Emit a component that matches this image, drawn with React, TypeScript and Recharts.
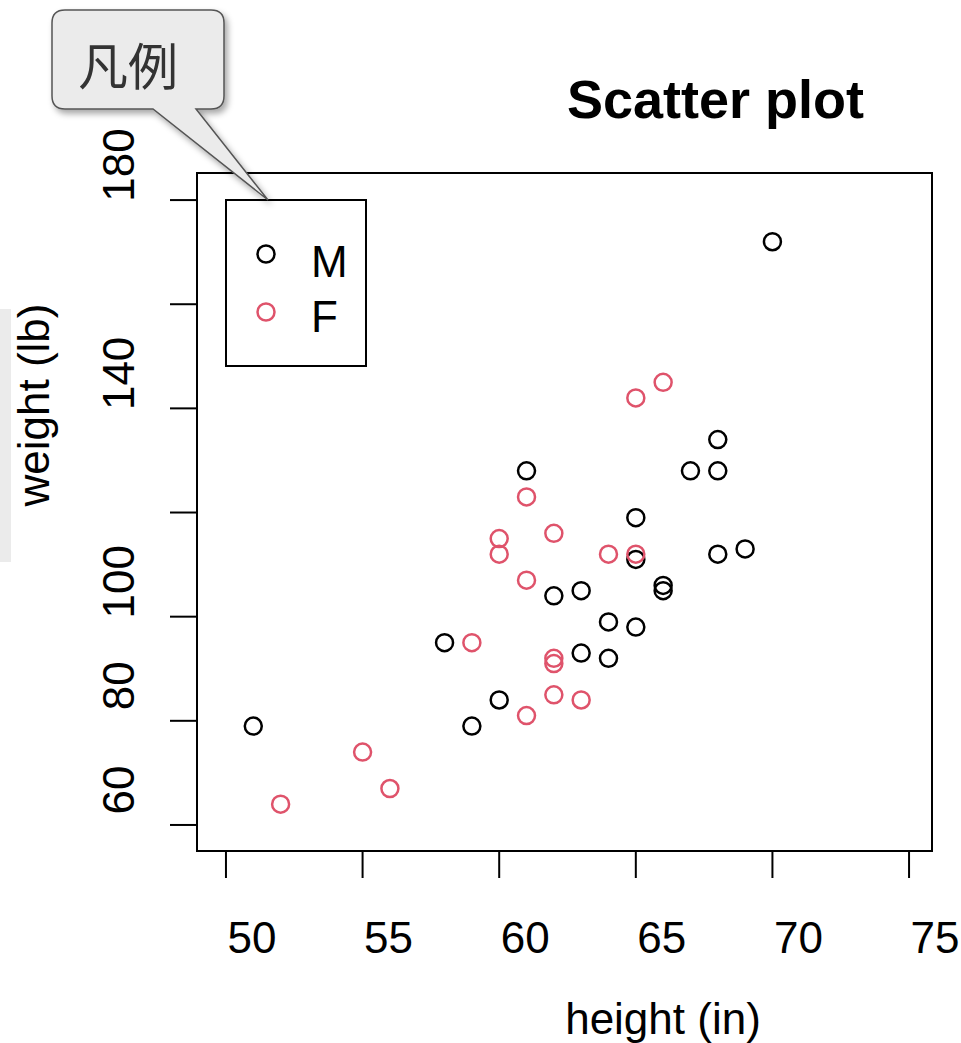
import { ScatterChart, Scatter, XAxis, YAxis, Legend, ReferenceArea } from 'recharts';

// height (in) / weight (lb)
const MALE_HEIGHT = [51, 58, 59, 60, 61, 62, 63, 63, 64, 64, 65, 65, 65, 66, 66, 67, 68, 68, 68, 69, 70];
const MALE_WEIGHT = [79, 95, 79, 84, 128, 104, 105, 93, 99, 92, 119, 111, 98, 106, 105, 128, 134, 128, 112, 113, 172];
const FEMALE_HEIGHT = [52, 55, 56, 59, 60, 60, 61, 61, 61, 62, 62, 62, 62, 63, 64, 65, 65, 66];
const FEMALE_WEIGHT = [64, 74, 67, 95, 115, 112, 123, 107, 81, 116, 92, 91, 85, 84, 112, 112, 142, 145];

const X_TICKS = [50, 55, 60, 65, 70, 75];
const Y_TICKS = [60, 80, 100, 120, 140, 160, 180];
const Y_LABELS = [60, 80, 100, 140, 180];

const X_DOMAIN = [48.94, 75.84];
const Y_DOMAIN = [55.0, 185.2];

const TITLE = 'Scatter plot';
const X_TITLE = 'height (in)';
const Y_TITLE = 'weight (lb)';
const CALLOUT = '凡例';

const SERIES = [
  { name: 'M', color: '#000000', data: MALE_HEIGHT.map((h, i) => ({ height: h, weight: MALE_WEIGHT[i] })) },
  { name: 'F', color: '#DF536B', data: FEMALE_HEIGHT.map((h, i) => ({ height: h, weight: FEMALE_WEIGHT[i] })) },
];

const FONT = '"Liberation Sans", Arial, sans-serif';

const ring = (color: string) => (props: any) => (
  <circle cx={props.cx} cy={props.cy} r={8.5} fill="none" stroke={color} strokeWidth={2.5} />
);

function XTick({ x, y, payload }: any) {
  return (
    <text x={x + 26} y={y + 73} textAnchor="middle" fontSize={44} fill="#000" fontFamily={FONT}>
      {payload.value}
    </text>
  );
}

function YTick({ x, y, payload }: any) {
  if (!Y_LABELS.includes(payload.value)) return <g />;
  const bx = x - 34;
  const by = y - 35;
  return (
    <text
      x={bx}
      y={by}
      transform={`rotate(-90, ${bx}, ${by})`}
      textAnchor="middle"
      fontSize={44}
      fill="#000"
      fontFamily={FONT}
    >
      {payload.value}
    </text>
  );
}

function LegendBox({ payload }: any) {
  const items = SERIES.map((s) => (payload || []).find((p: any) => p.value === s.name) || { value: s.name, color: s.color });
  return (
    <svg width={142} height={168} style={{ display: 'block' }}>
      <rect x={1} y={1} width={140} height={166} fill="#fff" stroke="#000" strokeWidth={2} />
      {items.map((p: any, i: number) => (
        <g key={p.value}>
          <circle cx={41} cy={55 + i * 58} r={8.5} fill="none" stroke={p.color} strokeWidth={2.5} />
          <text x={86} y={78 + i * 55} fontSize={44} fill="#000" fontFamily={FONT}>
            {p.value}
          </text>
        </g>
      ))}
    </svg>
  );
}

export default function App() {
  return (
    <div style={{ position: 'absolute', left: 0, top: 0, width: 961, height: 1043, background: '#fff', fontFamily: FONT }}>
      <ScatterChart width={961} height={1043} margin={{ top: 173, right: 29, bottom: 0, left: 0 }}>
        <XAxis
          dataKey="height"
          type="number"
          domain={X_DOMAIN}
          ticks={X_TICKS}
          allowDataOverflow
          height={192}
          tickSize={27}
          tickLine={{ stroke: '#000', strokeWidth: 2 }}
          axisLine={{ stroke: '#000', strokeWidth: 2 }}
          tick={<XTick />}
          interval={0}
        />
        <YAxis
          dataKey="weight"
          type="number"
          domain={Y_DOMAIN}
          ticks={Y_TICKS}
          allowDataOverflow
          width={197}
          tickSize={27}
          tickLine={{ stroke: '#000', strokeWidth: 2 }}
          axisLine={{ stroke: '#000', strokeWidth: 2 }}
          tick={<YTick />}
          interval={0}
        />
        <ReferenceArea
          x1={X_DOMAIN[0]}
          x2={X_DOMAIN[1]}
          y1={Y_DOMAIN[0]}
          y2={Y_DOMAIN[1]}
          fill="none"
          fillOpacity={0}
          stroke="#000"
          strokeWidth={2}
          ifOverflow="visible"
        />
        <Legend
          layout="vertical"
          align="center"
          verticalAlign="middle"
          wrapperStyle={{ position: 'absolute', left: 225, top: 199, width: 142, height: 168 }}
          content={<LegendBox />}
        />
        {SERIES.map((s) => (
          <Scatter
            key={s.name}
            name={s.name}
            data={s.data}
            fill={s.color}
            stroke={s.color}
            shape={ring(s.color)}
            isAnimationActive={false}
          />
        ))}
      </ScatterChart>

      <svg
        width={961}
        height={1043}
        style={{ position: 'absolute', left: 0, top: 0, pointerEvents: 'none' }}
      >
        <defs>
          <filter id="shadow" x="-20%" y="-20%" width="150%" height="150%">
            <feDropShadow dx={3} dy={4} stdDeviation={3} floodColor="#000" floodOpacity={0.35} />
          </filter>
        </defs>
        <rect x={0} y={309} width={11} height={253} fill="#ebebeb" />
        <text x={567} y={118} fontSize={54} fontWeight="bold" fill="#000" fontFamily={FONT}>
          {TITLE}
        </text>
        <text x={663} y={1034} textAnchor="middle" fontSize={44} fill="#000" fontFamily={FONT}>
          {X_TITLE}
        </text>
        <text x={49} y={405} transform="rotate(-90, 49, 405)" textAnchor="middle" fontSize={44} fill="#000" fontFamily={FONT}>
          {Y_TITLE}
        </text>
        <path
          d="M 65 10 H 211 Q 224 10 224 23 V 96 Q 224 109 211 109 H 196 L 268 200 L 153 109 H 65 Q 52 109 52 96 V 23 Q 52 10 65 10 Z"
          fill="#ebebeb"
          stroke="#555"
          strokeWidth={1.5}
          filter="url(#shadow)"
        />
        <text x={128} y={85} textAnchor="middle" fontSize={50} fill="#333" fontFamily='"Noto Sans CJK JP", "Noto Sans CJK SC", sans-serif'>
          {CALLOUT}
        </text>
      </svg>
    </div>
  );
}
